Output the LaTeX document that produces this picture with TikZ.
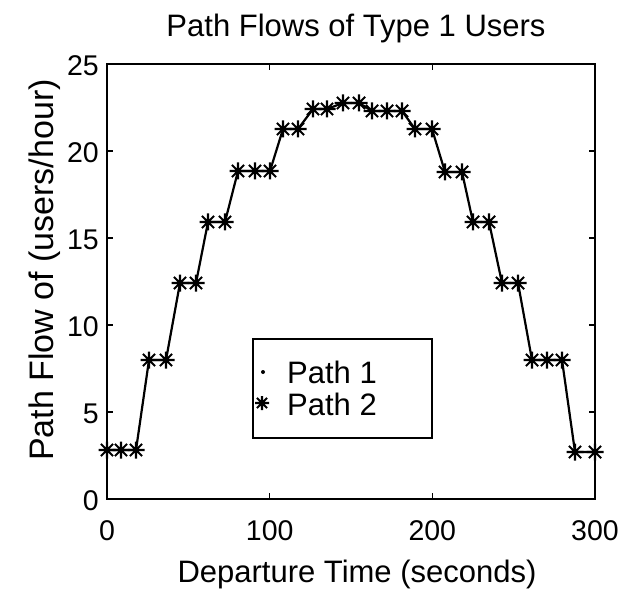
\documentclass[tikz,border=0pt]{standalone}
\usepackage{fontspec}
\setmainfont{Liberation Sans}
\begin{document}
\begin{tikzpicture}[x=1pt,y=-1pt,
  axisline/.style={line width=2pt},
  tickmark/.style={line width=1.4pt},
  ticklabel/.style={font=\fontsize{28.5}{30}\selectfont, inner sep=0pt},
  labeltext/.style={font=\fontsize{31}{33}\selectfont, inner sep=0pt},
  legendtext/.style={font=\fontsize{31}{33}\selectfont, inner sep=0pt, anchor=base west},
  curve/.style={line width=2.2pt, line join=round},
  markerline/.style={line width=2.1pt, line cap=butt},
]
\useasboundingbox (0,0) rectangle (628,601);

% asterisk marker centred on a coordinate
\newcommand\astmark[2]{%
  \draw[markerline] (#1) +(-#2,0) -- +(#2,0) +(0,-#2) -- +(0,#2)
    +(-0.72*#2,-0.72*#2) -- +(0.72*#2,0.72*#2)
    +(-0.72*#2,0.72*#2) -- +(0.72*#2,-0.72*#2);}

% data points (time, flow) in picture units
\foreach \i/\px/\py in {
  1/107/450, 2/121/450, 3/136/450, 4/149/360, 5/166/360,
  6/180/283, 7/196/283, 8/208/222, 9/225/222, 10/238/171,
  11/255/171, 12/270/171, 13/283/129, 14/298/129, 15/313/109,
  16/327/109, 17/343/103, 18/359/103, 19/372/111, 20/387/111,
  21/402/111, 22/415/129, 23/432/129, 24/445/172, 25/462/172,
  26/473/222, 27/489/222, 28/502/283, 29/518/283, 30/532/360,
  31/547/360, 32/562/360, 33/575/452, 34/595/452}
  \coordinate (p\i) at (\px,\py);

% axes box
\coordinate (bl) at (107,499);
\coordinate (tr) at (595,64);
\draw[axisline] (bl) rectangle (tr);

% ticks and tick labels on the time axis
\foreach \v/\xx in {0/107, 100/269.7, 200/432.3, 300/595} {
  \draw[tickmark] (\xx,499) -- (\xx,493);
  \draw[tickmark] (\xx,64) -- (\xx,70);
  \node[ticklabel, anchor=base] (xt\v) at (\xx,540) {\v};
}
% ticks and tick labels on the flow axis
\foreach \v in {0,5,10,15,20,25} {
  \pgfmathsetmacro\yy{499-17.4*\v}
  \draw[tickmark] (107,\yy) -- (113,\yy);
  \draw[tickmark] (595,\yy) -- (589,\yy);
  \node[ticklabel, anchor=east] (yt\v) at (99,\yy+2) {\v};
}

% flow curve
\draw[curve] (p1) \foreach \i in {2,...,34} { -- (p\i) };
\foreach \i in {1,...,34} {
  \fill (p\i) circle (2pt);
  \astmark{p\i}{8.5}
}

% legend
\node[draw, line width=1.6pt, minimum width=179pt, minimum height=99pt, anchor=north west, inner sep=0pt] (legend) at (252,338) {};
\coordinate (l1) at (263,372);
\coordinate (l2) at (262,403);
\fill (l1) circle (2pt);
\astmark{l2}{7}
\node[legendtext] (lt1) at (287,383) {Path 1};
\node[legendtext] (lt2) at (287,415) {Path 2};

% title and axis labels
\node[labeltext, anchor=base] (title) at (356,37) {Path Flows of Type 1 Users};
\node[labeltext, anchor=base] (xlabel) at (357,582) {Departure Time (seconds)};
\node[font=\fontsize{34}{36}\selectfont, inner sep=0pt, anchor=base, rotate=90] (ylabel) at (53,270) {Path Flow of (users/hour)};
\end{tikzpicture}
\end{document}
